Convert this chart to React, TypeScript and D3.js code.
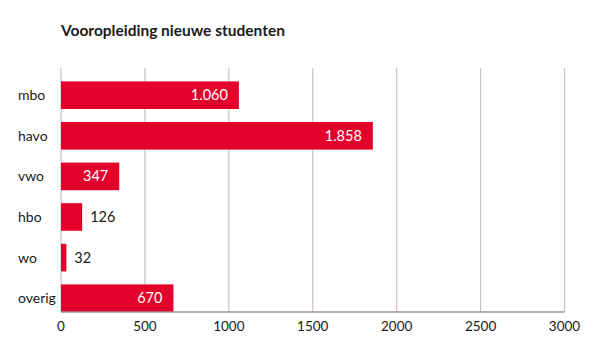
import React from "react";
import * as d3 from "d3";

// Chart data
const categories = ["mbo", "havo", "vwo", "hbo", "wo", "overig"];
const values = [1060, 1858, 347, 126, 32, 670];
const tickValues = [0, 500, 1000, 1500, 2000, 2500, 3000];

const width = 600;
const height = 364;
const margin = { top: 68, right: 35.5, bottom: 52, left: 61 };
const font = "Lato, 'Open Sans', sans-serif";

const nl = d3.formatLocale({ decimal: ",", thousands: ".", grouping: [3], currency: ["€", ""] });
const fmt = nl.format(",d");

const App = () => {
  const x = d3.scaleLinear().domain([0, 3000]).range([margin.left, width - margin.right]);
  const y = d3
    .scaleBand()
    .domain(categories)
    .range([margin.top, height - margin.bottom])
    .paddingInner(0.32)
    .paddingOuter(0.165)
    .align(1);
  const axisY = height - margin.bottom;

  return (
    <svg
      width={width}
      height={height}
      style={{ position: "absolute", left: 0, top: 0, background: "#fff" }}
      fontFamily={font}
    >
      <text x={61} y={36} fontSize={15.5} fontWeight={700} fill="#1a1a1a">
        Vooropleiding nieuwe studenten
      </text>

      {/* gridlines */}
      {tickValues.map((t) => (
        <line key={t} x1={x(t)} x2={x(t)} y1={margin.top} y2={axisY} stroke="#c9c2c2" strokeWidth={1.2} />
      ))}

      {/* bars */}
      {categories.map((c, i) => (
        <rect key={c} x={x(0)} y={y(c)} width={x(values[i]) - x(0)} height={y.bandwidth()} fill="#e3002b" />
      ))}

      {/* axis line */}
      <line x1={x(0)} x2={x(3000)} y1={axisY} y2={axisY} stroke="#a38f8f" strokeWidth={1.6} />

      {/* category labels */}
      {categories.map((c) => (
        <text key={c} x={18} y={(y(c) as number) + y.bandwidth() / 2 + 5} fontSize={14} fill="#1a1a1a">
          {c}
        </text>
      ))}

      {/* value labels */}
      {categories.map((c, i) => {
        const inside = x(values[i]) - x(0) > 50;
        return (
          <text
            key={c}
            x={inside ? x(values[i]) - 11 : x(values[i]) + 8}
            y={(y(c) as number) + y.bandwidth() / 2 + 5}
            fontSize={14.5}
            textAnchor={inside ? "end" : "start"}
            fill={inside ? "#fff" : "#1a1a1a"}
          >
            {fmt(values[i])}
          </text>
        );
      })}

      {/* tick labels */}
      {tickValues.map((t) => (
        <text key={t} x={x(t)} y={axisY + 19} fontSize={13.5} textAnchor="middle" fill="#1a1a1a">
          {t}
        </text>
      ))}
    </svg>
  );
};

export default App;
